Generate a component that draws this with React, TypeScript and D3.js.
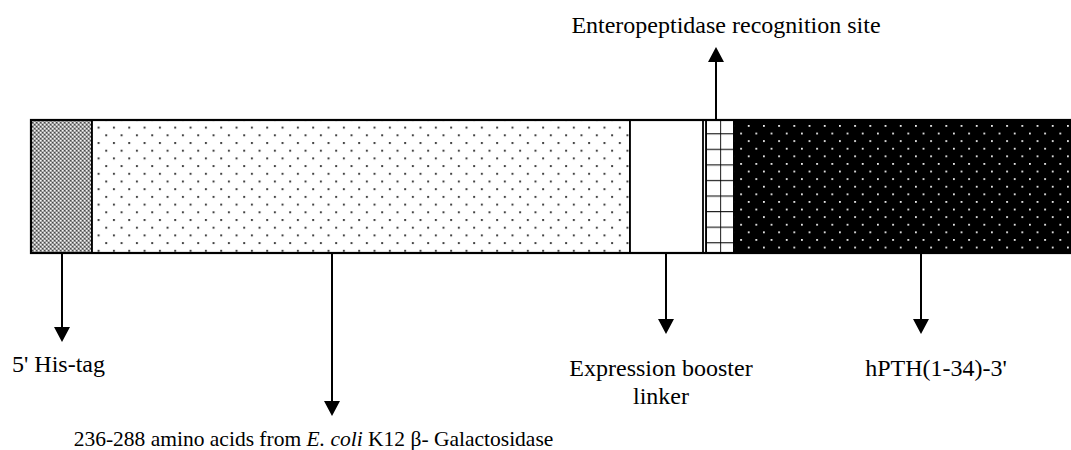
import React from "react";
import * as d3 from "d3";

// Construct segments (arbitrary length units along the fusion construct)
const segmentNames = ["His-tag", "β-Galactosidase 236-288", "Expression booster linker", "Enteropeptidase site", "hPTH(1-34)"];
const segmentStart = [0, 61, 599, 675, 703];
const segmentEnd = [61, 599, 672, 703, 1040];
const segmentFill = ["url(#histag)", "url(#galdots)", "#ffffff", "url(#grid)", "url(#pthdots)"];

// Callouts: position along construct (units), direction, label lines
const calloutAt = [31, 301, 635, 685, 890];
const calloutDir = ["down", "down", "down", "up", "down"];
const calloutLines: string[][] = [
  ["5' His-tag"],
  ["236-288 amino acids from |E. coli| K12 β- Galactosidase"],
  ["Expression booster", "linker"],
  ["Enteropeptidase recognition site"],
  ["hPTH(1-34)-3'"],
];

const W = 1071;
const H = 450;
const barTop = 120;
const barBottom = 253;
const arrowTip = [342, 416, 334, 47, 334];
const labelBaseline = [372, 446, 376, 33, 376];
const labelCenter = [58.5, 313.5, 661, 726, 936];
const labelSize = [24, 21.5, 24, 24, 24];

export default function App() {
  const x = d3.scaleLinear().domain([0, 1040]).range([31, 1071]);
  const font = "'Liberation Serif', 'Times New Roman', 'DejaVu Serif', serif";
  const head = 8;
  const headH = 15;
  return (
    <svg width={W} height={H} style={{ position: "absolute", left: 0, top: 0, background: "#fff" }}>
      <defs>
        <pattern id="histag" patternUnits="userSpaceOnUse" width={4} height={4}>
          <rect width={4} height={4} fill="#8c8c8c" />
          <rect x={0} y={0} width={1.5} height={1.5} fill="#f4f4f4" />
          <rect x={2} y={2} width={1.5} height={1.5} fill="#f4f4f4" />
          <rect x={2} y={0} width={1} height={1} fill="#4a4a4a" />
          <rect x={0} y={2} width={1} height={1} fill="#4a4a4a" />
        </pattern>
        <pattern id="galdots" patternUnits="userSpaceOnUse" width={15.33} height={15.4} x={5.6} y={3.4}>
          <rect width={15.33} height={15.4} fill="#fff" />
          <rect x={0} y={0} width={2} height={2} fill="#444" />
          <rect x={7.66} y={7.7} width={2} height={2} fill="#444" />
        </pattern>
        <pattern id="pthdots" patternUnits="userSpaceOnUse" width={15.2} height={15.2} x={3} y={3.4}>
          <rect width={15.2} height={15.2} fill="#000" />
          <rect x={0} y={0} width={1.8} height={1.8} fill="#eee" />
          <rect x={7.6} y={7.6} width={1.8} height={1.8} fill="#eee" />
        </pattern>
        <pattern id="grid" patternUnits="userSpaceOnUse" width={14.2} height={15.57} x={706} y={117.6}>
          <rect width={14.2} height={15.57} fill="#fff" />
          <line x1={0} x2={14.2} y1={0} y2={0} stroke="#222" strokeWidth={2.4} />
          <line x1={0} x2={0} y1={0} y2={15.57} stroke="#000" strokeWidth={1.8} />
        </pattern>
      </defs>
      {segmentNames.map((n, i) => (
        <rect
          key={n}
          x={x(segmentStart[i])}
          y={barTop}
          width={x(segmentEnd[i]) - x(segmentStart[i])}
          height={barBottom - barTop}
          fill={segmentFill[i]}
          stroke="#000"
          strokeWidth={1.8}
        />
      ))}
      <rect x={x(0)} y={barTop} width={x(1040) - x(0)} height={barBottom - barTop} fill="none" stroke="#000" strokeWidth={2.2} />
      {calloutAt.map((u, i) => {
        const cx = x(u);
        const down = calloutDir[i] === "down";
        const y0 = down ? barBottom : barTop;
        const tip = arrowTip[i];
        const base = down ? tip - headH : tip + headH;
        return (
          <g key={i}>
            <line x1={cx} x2={cx} y1={y0} y2={base} stroke="#000" strokeWidth={2} />
            <path d={`M${cx - head},${base} L${cx + head},${base} L${cx},${tip} Z`} fill="#000" />
            {calloutLines[i].map((line, j) => (
              <text
                key={j}
                x={labelCenter[i]}
                y={labelBaseline[i] + j * 28}
                textAnchor="middle"
                style={{ fontFamily: font, fontSize: labelSize[i] }}
                fill="#000"
              >
                {line.split("|").map((part, k) => (
                  <tspan key={k} fontStyle={k % 2 === 1 ? "italic" : "normal"}>{part}</tspan>
                ))}
              </text>
            ))}
          </g>
        );
      })}
    </svg>
  );
}
